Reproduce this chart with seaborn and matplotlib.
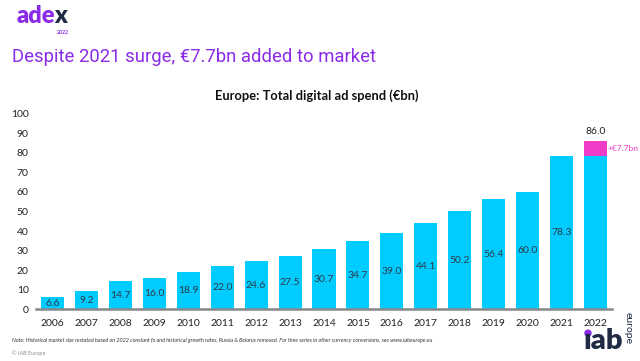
import pandas as pd
import numpy as np
import seaborn as sns
import matplotlib.pyplot as plt
from matplotlib.patches import Circle

# Dados do gráfico
anos = [str(a) for a in range(2006, 2023)]
base = [6.6, 9.2, 14.7, 16.0, 18.9, 22.0, 24.6, 27.5, 30.7, 34.7, 39.0, 44.1,
        50.2, 56.4, 60.0, 78.3, 78.3]
acrescimo = [0, 0, 0, 0, 0, 0, 0, 0, 0, 0, 0, 0, 0, 0, 0, 0, 7.7]
rotulos = ["6.6", "9.2", "14.7", "16.0", "18.9", "22.0", "24.6", "27.5", "30.7",
           "34.7", "39.0", "44.1", "50.2", "56.4", "60.0", "78.3", ""]
total_2022 = "86.0"
rotulo_acrescimo = "+€7.7bn"
yticks = list(range(0, 101, 10))

roxo = "#8A2BE8"
ciano = "#00CCFF"
rosa = "#EE3BC8"
azul_escuro = "#1F2A44"

sns.set_style("white")
plt.rcParams["font.family"] = ["Lato", "DejaVu Sans"]

df = pd.DataFrame({"ano": anos, "base": base,
                   "total": np.array(base) + np.array(acrescimo)})

fig = plt.figure(figsize=(6.4, 3.61), dpi=100)
ax = fig.add_axes([0.0555, 0.1427, 0.9015, 0.5429])

sns.barplot(data=df, x="ano", y="total", color=rosa, width=0.68,
            saturation=1, linewidth=0, ax=ax)
sns.barplot(data=df, x="ano", y="base", color=ciano, width=0.68,
            saturation=1, linewidth=0, ax=ax)
ax.bar_label(ax.containers[1], labels=rotulos, label_type="center",
             fontsize=7.5, color="#2E3A46")

# Total de 2022 e acréscimo
ax.text(16, df["total"].iloc[-1] + 2.5, total_2022, ha="center", va="bottom",
        fontsize=7.5, color="#222222")
ax.text(16.36, base[-1] + acrescimo[-1] / 2, rotulo_acrescimo, ha="left",
        va="center", fontsize=6, color=rosa, clip_on=False)

ax.set_xlim(-0.5, 16.5)
ax.set_ylim(0, 100)
ax.set_yticks(yticks)
ax.set_xlabel("")
ax.set_ylabel("")
ax.tick_params(axis="both", length=0, labelsize=7.5, colors="#222222")
ax.tick_params(axis="y", pad=5)
ax.tick_params(axis="x", pad=7)
for s in ["top", "right", "left"]:
    ax.spines[s].set_visible(False)
ax.spines["bottom"].set_color("#888888")
ax.spines["bottom"].set_linewidth(1.8)

ax.set_title("Europe: Total digital ad spend (€bn)", fontsize=9.3,
             fontweight="bold", color="#111111", pad=10, x=0.488)

# Cabeçalho
fig.text(0.019, 0.842, "Despite 2021 surge, €7.7bn added to market",
         fontsize=13.3, color=roxo, ha="left", va="center",
         family=["Roboto", "DejaVu Sans"])

fig.canvas.draw()
r = fig.canvas.get_renderer()
t_ade = fig.text(0.026, 0.955, "ade", fontsize=17, fontweight="heavy",
                 color=roxo, ha="left", va="center")
bb = t_ade.get_window_extent(r).transformed(fig.transFigure.inverted())
fig.text(bb.x1 - 0.002, 0.955, "x", fontsize=17, fontweight="heavy",
         color=azul_escuro, ha="left", va="center")
fig.text(0.098, 0.911, "2022", fontsize=3.8, fontweight="bold", color=roxo,
         ha="center", va="center")

# Rodapé
fig.text(0.019, 0.058,
         "Note: Historical market size restated based on 2022 constant fx and "
         "historical growth rates, Russia & Belarus removed. For time series in "
         "other currency conversions, see www.iabeurope.eu",
         fontsize=3.9, style="italic", color="#333333", ha="left", va="center")
fig.text(0.019, 0.022, "© IAB Europe", fontsize=4, color="#888888",
         ha="left", va="center")
t_iab = fig.text(0.912, 0.055, "ıab", fontsize=21, fontweight="heavy",
                 color=azul_escuro, ha="left", va="center")
bi = t_iab.get_window_extent(r)
fig.add_artist(Circle((bi.x0 + 4.3, bi.y1 - 5), 3.0, color=roxo,
                      transform=None))
fig.text(0.981, 0.092, "europe", fontsize=7.5, color=azul_escuro, rotation=270,
         ha="center", va="center")

fig.savefig("out.png", dpi=100)
